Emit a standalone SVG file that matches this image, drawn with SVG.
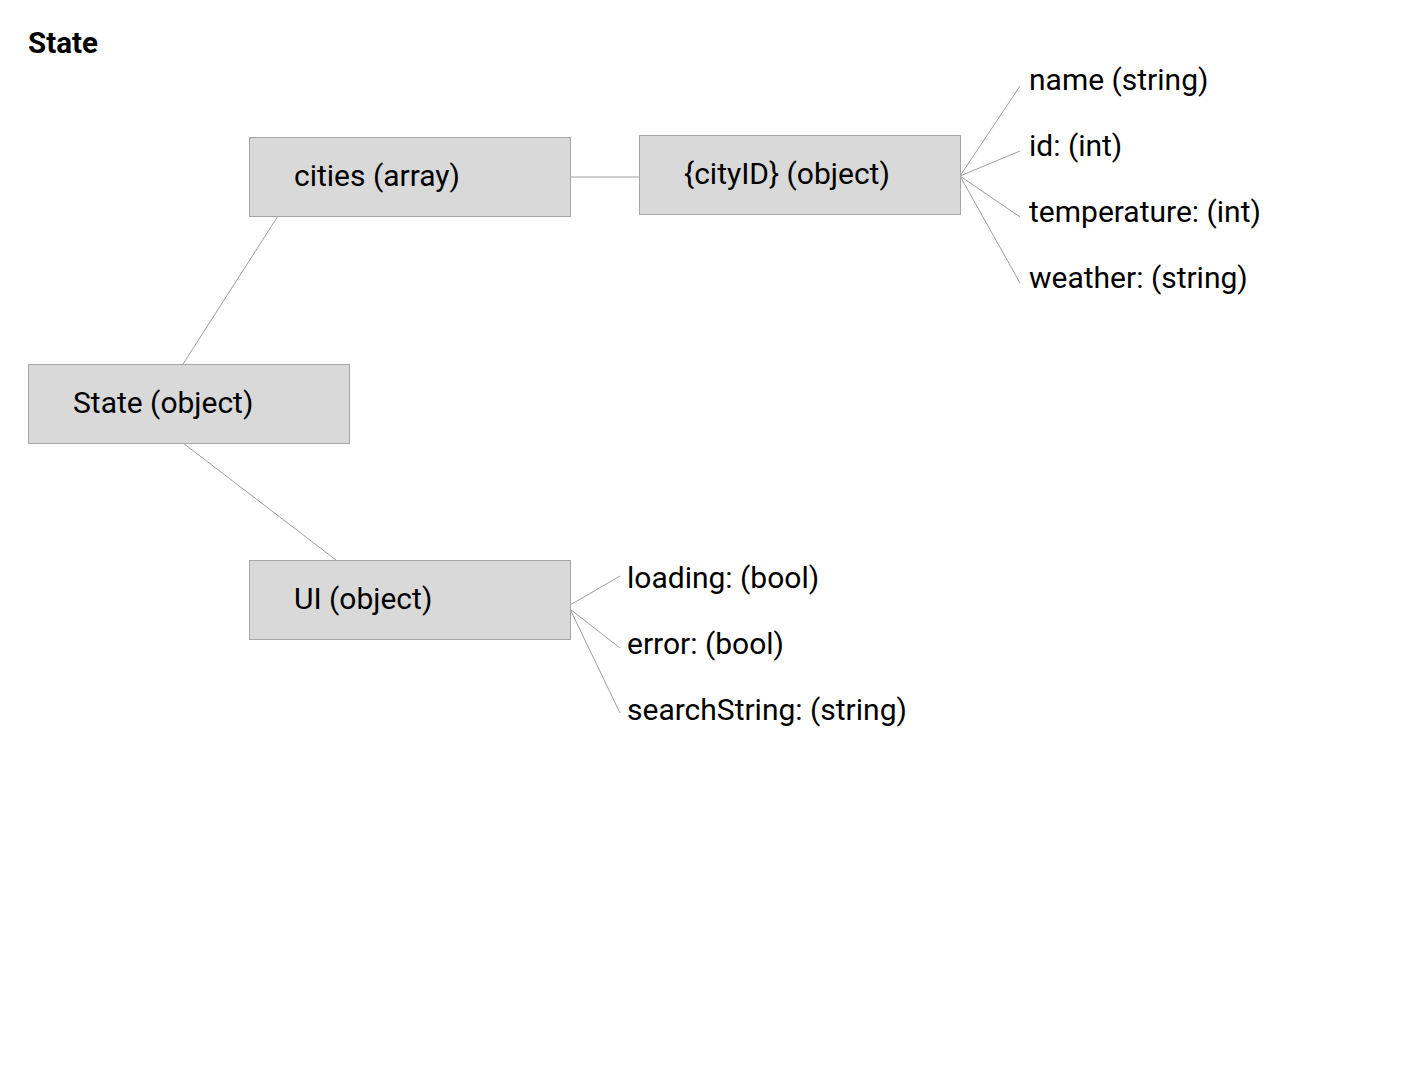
<svg xmlns="http://www.w3.org/2000/svg" width="1419" height="1075" viewBox="0 0 1419 1075">
<style>
.box{fill:#d9d9d9;stroke:#a6a6a6;stroke-width:1}
.t{font-family:Roboto,"Liberation Sans",sans-serif;font-size:30px;fill:#000}
.title{font-family:Roboto,"Liberation Sans",sans-serif;font-size:29.5px;font-weight:bold;fill:#000}
.c{stroke:#9e9e9e;stroke-width:1;fill:none}
</style>
<rect width="1419" height="1075" fill="#fff"/>
<text class="title" x="28" y="53">State</text>
<g id="connectors">
<line class="c" x1="278" y1="216" x2="183" y2="364"/>
<line class="c" x1="183" y1="443" x2="336" y2="560"/>
<line class="c" x1="570" y1="177" x2="639" y2="177"/>
<line class="c" x1="960" y1="176" x2="1020" y2="86"/>
<line class="c" x1="960" y1="176" x2="1020" y2="151"/>
<line class="c" x1="960" y1="176" x2="1020" y2="217"/>
<line class="c" x1="960" y1="176" x2="1020" y2="283"/>
<line class="c" x1="570" y1="605" x2="620" y2="576"/>
<line class="c" x1="570" y1="609" x2="620" y2="648"/>
<line class="c" x1="570" y1="609" x2="620" y2="713"/>
</g>
<g id="state"><rect class="box" x="28.5" y="364.5" width="321" height="79"/><text class="t" x="73" y="413">State (object)</text></g>
<g id="cities"><rect class="box" x="249.5" y="137.5" width="321" height="79"/><text class="t" x="294" y="186">cities (array)</text></g>
<g id="cityid"><rect class="box" x="639.5" y="135.5" width="321" height="79"/><text class="t" x="684" y="184">{cityID} (object)</text></g>
<g id="ui"><rect class="box" x="249.5" y="560.5" width="321" height="79"/><text class="t" x="294" y="609">UI (object)</text></g>
<g id="name"><text class="t" x="1029" y="90">name (string)</text></g>
<g id="id"><text class="t" x="1029" y="156">id: (int)</text></g>
<g id="temperature"><text class="t" x="1029" y="222">temperature: (int)</text></g>
<g id="weather"><text class="t" x="1029" y="288">weather: (string)</text></g>
<g id="loading"><text class="t" x="627" y="588">loading: (bool)</text></g>
<g id="error"><text class="t" x="627" y="654">error: (bool)</text></g>
<g id="searchString"><text class="t" x="627" y="720">searchString: (string)</text></g>
</svg>
